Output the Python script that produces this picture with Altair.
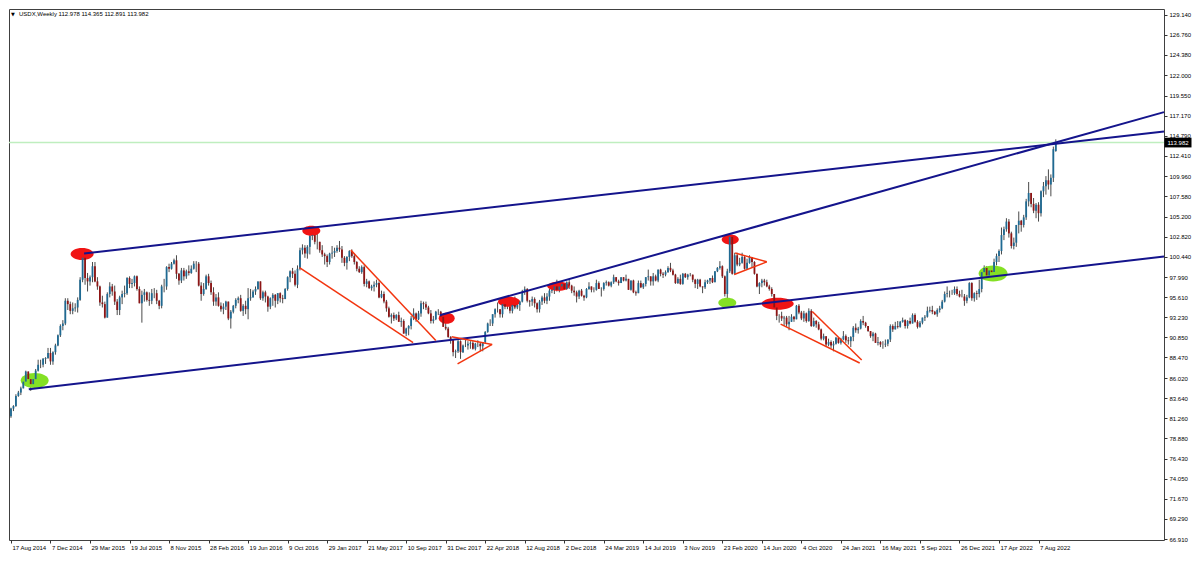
import altair as alt
import pandas as pd

# ---------------- weekly USDX candles (week starting Sunday) ----------------
close_2014 = [82.4, 82.7, 83.9, 84.3, 84.8, 85.6, 86.8, 85.9, 85.3, 85.9, 86.9, 87.6, 87.6, 88.3, 88.4, 89.0, 88.0, 89.1, 89.9, 91.1]
high_2014 = [82.5, 82.8, 84.1, 84.5, 85.0, 85.9, 86.9, 86.4, 86.0, 86.0, 87.1, 88.2, 88.2, 88.4, 88.5, 89.6, 89.6, 89.2, 90.1, 91.2]
low_2014 = [81.3, 82.1, 82.6, 83.8, 84.0, 84.8, 85.6, 85.6, 84.5, 85.0, 85.6, 86.8, 87.2, 87.3, 87.7, 88.3, 87.6, 87.6, 88.8, 89.8]

close_2015 = [92.2, 92.5, 95.2, 94.8, 94.0, 94.3, 94.4, 95.3, 97.7, 100.3, 97.9, 97.5, 98.0, 99.3, 97.5, 96.9, 95.0, 94.8, 93.2, 96.0, 96.9, 96.3, 95.1, 94.1, 95.6, 96.0, 96.1, 97.9, 97.2, 97.3, 98.1, 96.6, 94.9, 95.9, 96.2, 95.3, 95.2, 96.1, 96.1, 95.2, 94.6, 96.9, 96.9, 99.2, 99.0, 99.6, 100.0, 98.4, 97.6, 98.8, 98.1, 98.7]
high_2015 = [92.4, 92.9, 95.5, 95.5, 95.1, 95.0, 94.9, 95.6, 98.0, 100.4, 100.1, 98.5, 98.2, 99.8, 99.8, 98.0, 97.0, 95.8, 95.1, 96.2, 97.4, 97.2, 97.0, 95.4, 95.8, 96.4, 97.0, 98.0, 98.1, 97.8, 98.2, 98.2, 96.9, 96.4, 96.6, 96.3, 96.2, 96.6, 96.7, 96.5, 95.3, 97.1, 97.8, 99.3, 99.6, 99.8, 100.2, 100.6, 98.5, 99.1, 99.1, 98.9]
low_2015 = [90.9, 91.7, 92.3, 94.1, 93.6, 93.6, 93.9, 93.8, 95.2, 97.4, 97.1, 96.3, 97.0, 97.4, 97.4, 96.5, 94.6, 94.4, 93.1, 93.2, 95.6, 95.8, 94.7, 93.5, 93.5, 94.8, 95.6, 95.9, 96.7, 96.7, 96.9, 96.4, 94.9, 92.6, 95.1, 95.1, 94.6, 94.8, 95.5, 94.8, 94.2, 94.3, 96.2, 96.5, 98.6, 98.9, 99.5, 97.8, 97.1, 97.3, 97.6, 97.8]

close_2016 = [98.5, 99.0, 99.6, 99.6, 97.0, 96.0, 96.6, 98.1, 97.3, 96.2, 95.1, 95.6, 94.6, 94.2, 94.5, 95.1, 93.1, 93.9, 94.6, 95.3, 95.5, 94.0, 94.6, 94.2, 95.5, 95.6, 96.3, 96.6, 97.5, 95.5, 96.2, 95.7, 94.5, 95.5, 95.9, 95.2, 96.1, 95.5, 95.4, 96.6, 98.0, 98.7, 98.4, 97.1, 99.0, 101.2, 101.5, 100.8, 101.6, 102.9, 103.0, 102.2]
high_2016 = [99.4, 99.4, 99.9, 99.9, 99.8, 97.4, 97.3, 98.3, 98.4, 97.6, 96.8, 96.0, 96.2, 95.0, 94.9, 95.2, 95.0, 94.1, 94.7, 95.5, 95.7, 95.9, 94.8, 95.2, 96.7, 96.6, 96.5, 96.9, 97.5, 97.5, 96.4, 96.4, 95.8, 95.6, 96.1, 96.0, 96.1, 96.2, 95.9, 96.7, 98.1, 98.8, 99.1, 98.8, 99.4, 101.5, 101.9, 101.8, 101.8, 103.0, 103.6, 103.3]
low_2016 = [98.2, 98.4, 98.9, 98.6, 96.9, 95.2, 95.8, 96.5, 97.0, 95.9, 94.6, 94.6, 94.5, 93.9, 93.6, 94.1, 92.9, 91.9, 93.7, 94.3, 94.9, 93.9, 93.4, 93.6, 93.0, 95.2, 95.6, 95.9, 96.5, 95.3, 95.2, 95.0, 93.9, 94.2, 94.6, 94.4, 94.8, 95.0, 94.9, 95.5, 96.4, 97.4, 97.9, 96.9, 96.7, 98.8, 100.7, 100.3, 100.2, 100.7, 102.4, 101.9]

close_2017 = [102.2, 101.2, 100.7, 100.5, 99.8, 100.8, 100.9, 101.1, 101.5, 101.3, 100.3, 99.7, 100.4, 101.1, 100.5, 99.8, 99.0, 98.6, 99.2, 97.2, 97.5, 96.7, 96.9, 97.1, 97.3, 95.6, 96.0, 95.1, 94.3, 93.3, 93.5, 93.1, 93.5, 92.7, 92.8, 91.3, 91.9, 92.2, 93.1, 93.7, 93.0, 93.7, 94.9, 94.8, 94.4, 93.7, 92.8, 93.0, 93.9, 93.9, 93.3, 92.1, 91.9]
high_2017 = [103.8, 102.0, 101.8, 100.9, 100.7, 100.9, 101.7, 101.5, 101.8, 102.3, 101.7, 100.5, 100.5, 101.2, 101.3, 100.8, 99.9, 99.3, 99.4, 99.4, 97.8, 97.6, 97.1, 97.5, 97.7, 97.5, 96.4, 96.3, 95.3, 94.5, 93.7, 93.8, 93.6, 93.9, 93.2, 93.0, 92.0, 92.3, 93.4, 94.3, 93.8, 94.0, 95.2, 95.1, 95.1, 94.6, 94.1, 93.4, 94.0, 94.2, 94.0, 93.4, 92.6]
low_2017 = [101.3, 100.9, 100.4, 99.5, 99.2, 99.5, 100.2, 100.4, 100.9, 101.0, 99.7, 99.3, 98.9, 99.9, 100.3, 99.5, 98.7, 98.5, 98.4, 96.9, 96.8, 96.6, 96.4, 96.3, 96.8, 95.5, 95.5, 94.9, 93.9, 93.2, 92.5, 92.8, 92.9, 92.8, 92.1, 91.5, 91.0, 91.1, 91.8, 92.9, 92.7, 92.9, 93.3, 94.2, 94.1, 93.6, 92.5, 92.5, 92.9, 93.5, 93.0, 92.6, 91.7]

close_2018 = [90.9, 90.6, 89.1, 89.2, 90.4, 89.1, 89.9, 89.9, 90.1, 90.2, 89.5, 90.1, 90.1, 89.8, 90.3, 91.5, 92.5, 92.5, 93.6, 94.2, 94.2, 93.6, 94.8, 94.5, 94.5, 94.0, 94.7, 94.4, 94.7, 95.1, 96.3, 96.6, 95.2, 95.1, 95.4, 94.9, 94.2, 95.1, 95.6, 95.2, 95.7, 96.4, 96.5, 96.9, 96.5, 96.9, 97.2, 96.6, 97.4, 97.0, 96.4, 96.2]
high_2018 = [92.1, 91.0, 90.6, 89.4, 90.6, 90.5, 90.0, 90.6, 90.4, 90.4, 90.4, 90.2, 90.5, 90.2, 90.3, 91.6, 92.6, 93.0, 93.6, 94.3, 95.0, 94.2, 95.3, 95.2, 95.5, 94.8, 94.9, 95.7, 94.9, 95.2, 96.5, 96.9, 96.7, 95.3, 95.7, 95.6, 95.0, 95.3, 95.8, 96.1, 96.1, 96.6, 97.2, 97.0, 97.7, 96.9, 97.3, 97.3, 97.5, 97.7, 97.1, 96.9]
low_2018 = [90.8, 90.1, 88.6, 88.4, 89.0, 88.3, 89.0, 89.7, 89.4, 89.5, 89.4, 89.3, 89.7, 89.2, 89.2, 90.1, 91.4, 92.2, 92.2, 93.2, 93.8, 93.2, 93.2, 94.2, 94.2, 93.7, 93.7, 94.2, 94.2, 94.0, 95.0, 95.9, 95.0, 94.5, 94.6, 94.4, 93.8, 93.8, 94.7, 94.9, 94.8, 95.2, 96.1, 96.0, 96.3, 96.2, 96.5, 96.5, 96.5, 96.6, 96.1, 95.8]

close_2019 = [95.7, 96.4, 95.8, 95.6, 96.6, 96.9, 96.5, 96.5, 97.3, 96.6, 96.6, 97.3, 97.4, 97.0, 97.4, 98.0, 97.5, 97.3, 98.0, 97.6, 97.8, 96.5, 97.6, 96.2, 96.1, 97.3, 96.8, 97.2, 98.0, 98.1, 97.5, 98.1, 97.6, 98.9, 98.4, 98.3, 98.6, 99.1, 98.8, 98.3, 97.3, 97.8, 97.2, 98.4, 98.0, 98.3, 98.3, 97.7, 97.2, 97.7, 96.9, 96.8]
high_2019 = [96.4, 96.5, 96.6, 95.9, 96.7, 97.4, 96.9, 96.8, 97.7, 97.5, 96.8, 97.4, 97.6, 97.5, 97.5, 98.3, 98.0, 97.7, 98.0, 98.0, 98.3, 97.8, 97.6, 97.7, 96.4, 97.6, 97.6, 97.3, 98.0, 98.9, 98.0, 98.5, 98.3, 98.9, 99.0, 98.6, 98.8, 99.3, 99.7, 99.0, 98.4, 98.0, 98.3, 98.5, 98.5, 98.4, 98.5, 98.3, 97.8, 97.8, 97.8, 96.9]
low_2019 = [95.0, 95.4, 95.7, 95.2, 95.5, 96.5, 96.2, 96.2, 96.4, 96.6, 95.7, 96.4, 97.0, 96.9, 96.8, 97.2, 97.4, 97.0, 97.3, 97.5, 97.5, 96.5, 96.4, 96.1, 95.8, 96.1, 96.7, 96.6, 96.9, 97.6, 97.0, 97.0, 97.5, 97.4, 98.1, 97.9, 98.1, 98.5, 98.6, 98.2, 97.2, 97.2, 97.1, 97.1, 97.9, 97.7, 98.1, 97.4, 96.7, 96.6, 96.8, 96.1]

close_2020 = [97.4, 97.6, 97.9, 97.4, 98.7, 99.1, 99.3, 98.1, 96.0, 98.7, 102.8, 98.4, 100.6, 99.5, 99.7, 100.4, 99.0, 99.7, 100.4, 99.8, 98.4, 96.9, 97.3, 97.6, 97.4, 96.9, 96.6, 96.0, 94.4, 93.4, 93.4, 93.1, 93.2, 92.4, 92.7, 93.3, 93.0, 94.6, 93.8, 93.1, 93.7, 92.8, 94.0, 92.2, 92.8, 92.4, 91.8, 90.7, 91.0, 90.0, 90.3, 89.9]
high_2020 = [97.7, 97.7, 97.9, 98.2, 98.7, 99.2, 99.9, 99.4, 98.2, 99.0, 103.0, 102.7, 100.9, 100.9, 100.3, 100.9, 100.5, 100.2, 100.6, 100.1, 99.9, 98.4, 97.4, 97.8, 97.8, 97.7, 97.1, 96.8, 96.0, 94.8, 93.6, 93.9, 93.4, 93.4, 93.4, 93.6, 93.4, 94.7, 94.8, 94.0, 94.0, 93.8, 94.3, 94.2, 93.2, 92.9, 92.7, 91.9, 91.3, 91.0, 90.7, 90.5]
low_2020 = [96.6, 97.2, 97.2, 97.3, 97.4, 98.6, 98.9, 97.9, 95.7, 94.7, 98.5, 98.3, 98.3, 99.3, 99.3, 99.6, 98.9, 99.0, 99.6, 99.2, 98.3, 96.8, 96.0, 96.8, 97.0, 96.8, 96.4, 95.7, 94.3, 92.9, 92.6, 92.8, 92.2, 92.1, 91.7, 92.7, 92.7, 93.0, 93.6, 92.9, 92.7, 92.6, 92.7, 92.1, 92.1, 92.0, 91.7, 90.5, 90.5, 89.7, 89.8, 89.6]

close_2021 = [90.1, 90.8, 90.2, 90.6, 91.0, 90.5, 90.4, 90.9, 92.0, 91.7, 91.9, 92.8, 92.6, 92.2, 91.6, 91.0, 91.3, 90.2, 90.3, 90.0, 90.0, 90.1, 90.6, 92.2, 91.8, 92.2, 92.1, 92.7, 92.9, 92.2, 92.8, 92.5, 93.5, 92.7, 92.1, 92.6, 93.2, 93.3, 94.0, 94.1, 93.9, 93.6, 94.1, 94.3, 95.1, 96.0, 96.1, 96.1, 96.1, 96.6, 96.0, 95.7]
high_2021 = [90.4, 90.9, 90.9, 90.8, 91.6, 91.2, 90.9, 91.0, 92.2, 92.5, 92.1, 93.0, 93.4, 92.7, 92.2, 91.6, 91.5, 91.4, 90.9, 90.4, 90.4, 90.6, 90.6, 92.4, 92.4, 92.7, 92.8, 92.8, 93.2, 93.0, 92.9, 93.2, 93.7, 93.7, 92.9, 92.8, 93.2, 93.5, 94.5, 94.5, 94.6, 94.0, 94.3, 94.6, 95.3, 96.3, 96.9, 96.4, 96.5, 96.9, 96.9, 96.4]
low_2021 = [89.2, 90.0, 90.1, 90.0, 90.5, 90.2, 90.0, 89.7, 90.4, 91.4, 91.3, 91.8, 92.3, 92.0, 91.5, 90.8, 90.4, 90.4, 89.9, 89.7, 89.5, 89.7, 89.8, 90.3, 91.5, 91.8, 91.9, 92.0, 92.6, 91.9, 91.9, 92.4, 92.7, 92.6, 91.9, 92.0, 92.4, 92.8, 93.2, 93.8, 93.6, 93.5, 93.3, 93.8, 94.2, 95.0, 95.6, 95.6, 95.9, 95.9, 95.8, 95.6]

close_2022 = [95.7, 95.2, 95.6, 97.3, 95.5, 96.1, 96.0, 96.6, 98.6, 99.1, 98.2, 98.8, 98.6, 99.8, 100.5, 101.1, 103.0, 103.7, 104.6, 103.2, 101.7, 102.1, 104.2, 104.7, 104.2, 105.1, 107.0, 108.0, 106.7, 105.9, 106.6, 105.6, 108.2, 108.8, 109.5, 109.0, 109.8, 113.2, 113.982]
high_2022 = [96.5, 96.0, 95.9, 97.4, 97.4, 96.2, 96.4, 97.7, 98.9, 99.4, 99.3, 99.2, 99.0, 100.2, 100.8, 101.3, 103.9, 104.0, 105.0, 104.9, 103.4, 102.7, 104.2, 105.8, 104.8, 105.4, 107.3, 109.3, 108.0, 107.4, 106.8, 106.9, 108.3, 109.3, 110.0, 110.8, 110.2, 113.5, 114.365]
low_2022 = [95.6, 94.6, 94.9, 95.5, 95.2, 95.1, 95.3, 95.6, 96.2, 97.7, 97.7, 97.8, 97.7, 98.3, 99.4, 99.8, 100.7, 102.4, 103.4, 102.7, 101.4, 101.3, 101.6, 103.2, 103.4, 103.9, 104.8, 106.4, 106.3, 105.6, 105.0, 104.6, 105.2, 107.5, 107.8, 108.4, 107.6, 109.3, 112.891]

first_open = 81.5
last_ohlc = [112.978, 114.365, 112.891, 113.982]

# y-axis tick labels of the terminal's price scale
price_ticks = [66.910, 69.290, 71.670, 74.050, 76.430, 78.880, 81.260, 83.640, 86.020, 88.470,
               90.850, 93.230, 95.610, 97.990, 100.440, 102.820, 105.200, 107.580, 109.960,
               112.410, 114.790, 117.170, 119.550, 122.000, 124.380, 126.760, 129.140]

# ---------------- annotations (week index, price) ----------------
blue_x1 = [7.2, 29.6, 173.6]
blue_p1 = [84.69, 100.82, 93.47]
blue_x2 = [466.8, 466.8, 466.8]
blue_p2 = [100.45, 115.29, 117.60]

red_x1 = [116.8, 137.6, 178.4, 180.8, 293.2, 292.8, 311.6, 324.4]
red_p1 = [99.13, 101.21, 90.93, 87.70, 100.86, 98.32, 92.43, 93.93]
red_x2 = [162.8, 172.0, 194.8, 194.8, 306.0, 306.0, 343.6, 344.4]
red_p2 = [90.24, 90.47, 90.01, 90.01, 99.82, 99.82, 87.81, 88.16]

ell_x = [28.8, 121.6, 176.4, 201.6, 221.6, 291.2, 310.4, 9.6, 290.0, 397.6]
ell_p = [100.74, 103.51, 93.12, 95.09, 96.93, 102.48, 94.85, 85.73, 94.97, 98.43]
ell_kind = ["red"] * 7 + ["green"] * 3
ell_px = [(23, 12), (18, 10), (16, 11), (22, 10), (22, 9), (17, 10), (32, 12), (28, 15), (18, 10), (29, 16)]

# ---------------- styles ----------------
UP, DOWN, WICK = "#1f6a93", "#8e1515", "#4a4a4a"
ELL_COL = {"red": "#f01414", "green": "#84e024"}
FONT = "Liberation Sans"

# ---------------- build tables ----------------
years = range(2014, 2023)
closes = sum([globals()[f"close_{y}"] for y in years], [])
highs = sum([globals()[f"high_{y}"] for y in years], [])
lows = sum([globals()[f"low_{y}"] for y in years], [])
assert len(closes) == len(highs) == len(lows)
n = len(closes)
opens = [first_open] + closes[:-1]
opens[-1] = last_ohlc[0]
dates = pd.date_range("2014-08-17", periods=n, freq="7D")
df = pd.DataFrame({"i": range(n), "o": opens, "c": closes})
df["h"] = [max(a, b, c) for a, b, c in zip(highs, opens, closes)]
df["l"] = [min(a, b, c) for a, b, c in zip(lows, opens, closes)]
df["col"] = [UP if c >= o else DOWN for o, c in zip(opens, closes)]

tick_weeks = list(range(0, n, 16))
tick_labels = [f"{dates[k].day} {dates[k].strftime('%b %Y')}" for k in tick_weeks]
label_expr = "[" + ",".join(f"'{t}'" for t in tick_labels) + "][round(datum.value/16)]"

blue = pd.DataFrame({"x": blue_x1, "y": blue_p1, "x2": blue_x2, "y2": blue_p2})
red = pd.DataFrame({"x": red_x1, "y": red_p1, "x2": red_x2, "y2": red_p2})
ell = pd.DataFrame({"x": ell_x, "y": ell_p})
ell["col"] = [ELL_COL[k] for k in ell_kind]
ell["shape"] = [f"M -1 0 A 1 {h / w:.3f} 0 1 1 1 0 A 1 {h / w:.3f} 0 1 1 -1 0 Z" for w, h in ell_px]
ell["size"] = [w * w for w, h in ell_px]
cur = pd.DataFrame({"y": [last_ohlc[3]], "t": [f"{last_ohlc[3]:.3f}"]})

# ---------------- chart ----------------
W, H = 1155, 531
xscale = alt.Scale(domain=[-0.8, 466.8], nice=False, zero=False)
yscale = alt.Scale(domain=[66.795, 129.84], nice=False, zero=False)

xaxis = alt.Axis(values=tick_weeks, labelExpr=label_expr, labelAlign="left", labelBaseline="top",
                 labelPadding=1, labelOffset=1, tickSize=3, tickColor="#333333", domain=False,
                 grid=False, labelFontSize=6, labelFont=FONT, labelColor="#000000",
                 labelOverlap=False, labelFlush=False, title=None)
yaxis = alt.Axis(orient="right", values=price_ticks, format=".3f", tickSize=3, tickColor="#333333",
                 domain=False, grid=False, labelFontSize=6, labelFont=FONT, labelColor="#000000",
                 labelPadding=2, labelOverlap=False, labelFlush=False, title=None)


def X(f):
    return alt.X(f"{f}:Q", scale=xscale, axis=xaxis)


def Y(f):
    return alt.Y(f"{f}:Q", scale=yscale, axis=yaxis)


wicks = alt.Chart(df).mark_rule(color=WICK, strokeWidth=1).encode(x=X("i"), y=Y("l"), y2="h")
bodies = alt.Chart(df).mark_rule(strokeWidth=1.8).encode(
    x=X("i"), y=Y("o"), y2="c", color=alt.Color("col:N", scale=None))

ellipses = alt.Chart(ell).mark_point(filled=True, opacity=1, strokeWidth=0).encode(
    x=X("x"), y=Y("y"),
    shape=alt.Shape("shape:N", scale=None),
    size=alt.Size("size:Q", scale=None),
    color=alt.Color("col:N", scale=None),
)

price_line = alt.Chart(cur).mark_rule(color="#bfeebf", strokeWidth=1.5).encode(y=Y("y"))

blue_lines = alt.Chart(blue).mark_rule(color="#14148c", strokeWidth=2).encode(
    x=X("x"), y=Y("y"), x2="x2", y2="y2")
red_lines = alt.Chart(red).mark_rule(color="#f2350f", strokeWidth=1.5).encode(
    x=X("x"), y=Y("y"), x2="x2", y2="y2")

box = alt.Chart(cur).mark_point(filled=True, opacity=1, strokeWidth=0, color="#000000",
                                shape="M -1 -0.36 L 1 -0.36 L 1 0.36 L -1 0.36 Z").encode(
    x=alt.value(W + 14), y=Y("y"), size=alt.value(27 * 27))
box_text = alt.Chart(cur).mark_text(color="#ffffff", fontSize=6, font=FONT, align="center",
                                    baseline="middle").encode(
    x=alt.value(W + 14), y=Y("y"), text="t:N")

header = alt.Chart(cur).mark_text(fontSize=6, font=FONT, align="left", baseline="middle",
                                  color="#000000").encode(
    x=alt.value(10), y=alt.value(5),
    text=alt.value("USDX,Weekly  " + " ".join(f"{v:.3f}" for v in last_ohlc)))
marker = alt.Chart(cur).mark_text(fontSize=5, font="DejaVu Sans", align="center", baseline="middle",
                                  color="#000000").encode(
    x=alt.value(4), y=alt.value(5), text=alt.value("▼"))

chart = alt.layer(
    wicks, ellipses, price_line, bodies, blue_lines, red_lines, box, box_text, header, marker
).properties(
    width=W, height=H,
    autosize=alt.AutoSizeParams(type="none"),
    padding={"left": 1, "top": 1, "right": 28, "bottom": 12},
    background="#ffffff",
).configure_view(stroke="#404040", strokeWidth=1)

chart.save("out.html", embed_options={"renderer": "svg", "actions": False})
